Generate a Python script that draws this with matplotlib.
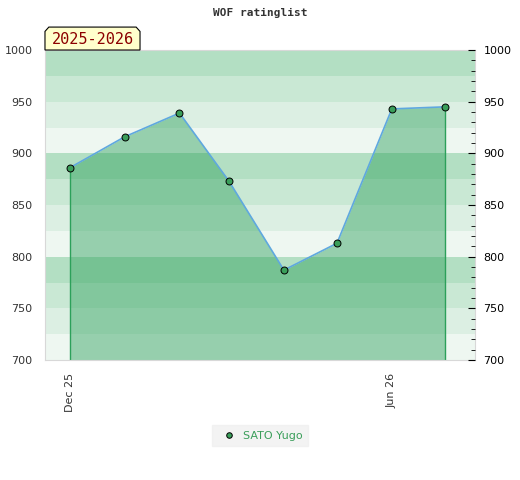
import numpy as np
import matplotlib
matplotlib.use('Agg')
import matplotlib.pyplot as plt
from matplotlib.patches import Polygon
from datetime import datetime

# data
months = ['2025-12-01', '2026-01-01', '2026-02-01', '2026-03-01',
          '2026-04-01', '2026-05-01', '2026-06-01', '2026-07-01']
ratings = [886, 916, 939, 873, 787, 813, 943, 945]
player = 'SATO Yugo'
season = '2025-2026'
xtick_dates = ['2025-12-01', '2026-06-01']
xtick_labels = ['Dec 25', 'Jun 26']

band_colors = ['#b3dfc3', '#c9e8d4', '#dcefe3', '#eef7f1']


def main():
    dates = [datetime.strptime(d, '%Y-%m-%d') for d in months]

    fig = plt.figure(figsize=(5.2, 4.8), dpi=100)
    ax = fig.add_axes([0.0865, 0.25, 0.827, 0.6458])
    ax.set_ylim(700, 1000)
    ax.set_xlim(datetime(2025, 11, 17), datetime(2026, 7, 18))

    # horizontal bands, 25 points each
    for i, top in enumerate(range(1000, 700, -25)):
        ax.axhspan(top - 25, top, color=band_colors[i % 4], lw=0, zorder=0)

    ax.fill_between(dates, ratings, 700, color='#2ca05a', alpha=0.45, lw=0, zorder=1)
    ax.vlines([dates[0], dates[-1]], 700, [ratings[0], ratings[-1]],
              color='#2ca05a', lw=1, zorder=2)
    ax.plot(dates, ratings, color='#5fa8df', lw=1.2, zorder=3)
    ax.plot(dates, ratings, 'o', ms=5, mfc='#3a9e5a', mec='black', mew=0.7,
            zorder=4, label=player)

    for s in ax.spines.values():
        s.set_color('#d8d8d8')
    ax.set_yticks(range(700, 1001, 50))
    ax.tick_params(axis='y', length=0, labelsize=8, labelcolor='#333333', pad=9)
    ax.set_xticks([datetime.strptime(d, '%Y-%m-%d') for d in xtick_dates])
    ax.set_xticklabels(xtick_labels, rotation=90)
    ax.tick_params(axis='x', length=0, labelsize=8, labelcolor='#333333', pad=9)

    ax2 = ax.twinx()
    ax2.set_ylim(700, 1000)
    ax2.set_yticks(range(700, 1001, 50))
    ax2.set_yticks(range(700, 1001, 10), minor=True)
    ax2.tick_params(axis='y', which='major', direction='in', length=5,
                    labelsize=8, labelcolor='black', pad=6)
    ax2.tick_params(axis='y', which='minor', direction='in', length=3)
    for s in ax2.spines.values():
        s.set_visible(False)

    fig.text(0.5, 0.972, 'WOF ratinglist', ha='center', va='center',
             family='DejaVu Sans Mono', weight='bold', fontsize=8, color='#333333')

    # season tag with clipped top corners
    w, h, cx, cy = 0.221, 0.074, 0.009, 0.014
    tag = Polygon([(0, 1), (0, 1 + h - cy), (cx, 1 + h), (w - cx, 1 + h),
                   (w, 1 + h - cy), (w, 1)], closed=True, transform=ax.transAxes,
                  fc='#ffffcc', ec='black', lw=0.8, clip_on=False, zorder=5)
    ax.add_patch(tag)
    ax.text(w / 2, 1 + h / 2 - 0.004, season, transform=ax.transAxes,
            ha='center', va='center', family='DejaVu Sans Mono', fontsize=11,
            color='#8b0000', zorder=6)

    leg = fig.legend(loc='center', bbox_to_anchor=(0.5, 0.092), frameon=True,
                     fontsize=8, handletextpad=0.3, markerscale=0.8,
                     fancybox=False, borderpad=0.5)
    leg.get_frame().set_facecolor('#f0f0f0')
    leg.get_frame().set_edgecolor('#f0f0f0')
    for t in leg.get_texts():
        t.set_color('#3a9e5a')

    fig.savefig('out.png', dpi=100)


if __name__ == '__main__':
    main()
